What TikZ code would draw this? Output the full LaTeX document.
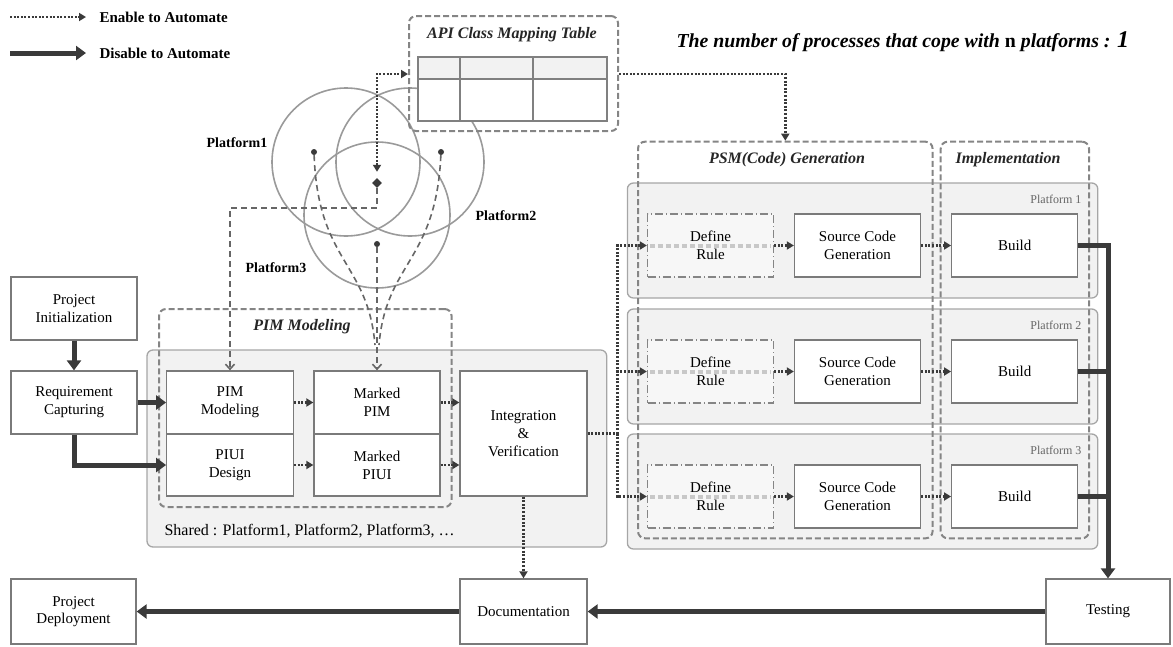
\documentclass[tikz,border=0pt]{standalone}
\usepackage{fontspec}
\setmainfont{Liberation Serif}
\usetikzlibrary{arrows.meta,shapes.geometric}
\definecolor{dk}{HTML}{3A3A3A}
\definecolor{bd}{HTML}{7A7A7A}
\definecolor{grp}{HTML}{858585}
\definecolor{fillg}{HTML}{F2F2F2}
\definecolor{circ}{HTML}{9A9A9A}
\definecolor{lg}{HTML}{C8C8C8}
\tikzset{
  box/.style={draw=bd, line width=1.3pt, fill=white, align=center, inner sep=0pt,
    font=\fontsize{15}{18}\selectfont},
  boxb/.style={box, font=\fontsize{15}{17}\selectfont},
  rulebox/.style={box, draw=grp, dash pattern=on 8pt off 3pt on 1pt off 3pt, fill=white!97!black},
  grpbox/.style={draw=grp, line width=2pt, dash pattern=on 6pt off 3pt, rounded corners=7pt, inner sep=0pt},
  platbox/.style={draw=gray!70, line width=1.3pt, fill=fillg, rounded corners=6pt},
  head/.style={font=\fontsize{16}{18}\selectfont\bfseries\itshape, text=black!85},
  legtxt/.style={font=\fontsize{15}{17}\selectfont\bfseries, anchor=west},
  dotline/.style={draw=dk, line width=2.4pt, dash pattern=on 2pt off 1.6pt},
  dotarr/.style={dotline, -{Triangle[length=7pt,width=8pt]}},
  thickline/.style={draw=dk, line width=5pt},
  thickarr/.style={thickline, -{Triangle[length=10pt,width=14pt]}},
  dsh/.style={draw=black!60, line width=1.6pt, dash pattern=on 6pt off 4pt},
  dsharr/.style={dsh, -{Straight Barb[length=5pt,width=9pt]}},
  circl/.style={draw=circ, line width=1.6pt},
  dotn/.style={circle, fill=dk, minimum size=6pt, inner sep=0pt},
  plab/.style={font=\fontsize{14}{16}\selectfont\bfseries},
  pnum/.style={font=\fontsize{12}{14}\selectfont, text=black!60, anchor=east},
}
\begin{document}
\begin{tikzpicture}[x=1pt,y=-1pt]
\useasboundingbox (0,0) rectangle (1173,646);

% ---------- background gray areas ----------
\draw[platbox] (147,350) rectangle (606.7,547);
\foreach \t in {183,309,434}{
  \draw[platbox] (627.4,\t) rectangle (1097.8,\t+115);
}

% ---------- circles ----------
\draw[circl] (346,162) circle[radius=74pt];
\draw[circl] (410,162) circle[radius=74pt];
\draw[circl] (377,215) circle[radius=73pt];
\node[plab] (p1lab) at (237,143) {Platform1};
\node[plab] (p2lab) at (506,216) {Platform2};
\node[plab] (p3lab) at (276,268) {Platform3};

% ---------- API table ----------
\node[grpbox, minimum width=209pt, minimum height=115pt] (apibox) at (513.5,73.5) {};
\node[head] (apititle) at (512,35) {API Class Mapping Table};
\fill[white] (418,57) rectangle (607,121);
\fill[fillg] (418,57) rectangle (607,79);
\draw[draw=black!50, line width=1.3pt] (418,57) rectangle (607,121);
\draw[draw=black!50, line width=1.3pt] (418,79) -- (607,79) (460,57) -- (460,121) (533,57) -- (533,121);

% ---------- group boxes ----------
\node[grpbox, minimum width=292.6pt, minimum height=198pt] (pimgrp) at (305.3,408) {};
\node[head] (pimlab) at (302,327) {PIM Modeling};
\node[grpbox, minimum width=294.6pt, minimum height=396.6pt] (psm) at (785.3,340) {};
\node[head] (psmlab) at (787,160) {PSM(Code) Generation};
\node[grpbox, minimum width=148.3pt, minimum height=396.6pt] (impl) at (1014.85,340) {};
\node[head] (impllab) at (1008,160) {Implementation};

% ---------- left nodes ----------
\node[box, minimum width=126pt, minimum height=63pt] (projinit) at (74,308.5) {Project\\Initialization};
\node[box, minimum width=126pt, minimum height=63pt] (req) at (74,402.5) {Requirement\\Capturing};
\node[box, minimum width=126.5pt, minimum height=63pt] (pimmod) at (230,402.5) {PIM\\Modeling};
\node[box, minimum width=126.5pt, minimum height=62pt] (piui) at (230,465) {PIUI\\Design};
\node[box, minimum width=126pt, minimum height=63pt] (mpim) at (377,402.5) {Marked\\PIM};
\node[box, minimum width=126pt, minimum height=62pt] (mpiui) at (377,465) {Marked\\PIUI};
\node[box, minimum width=127pt, minimum height=125pt] (integ) at (523.5,433.5) {Integration\\\&\\Verification};
\node[anchor=west, font=\fontsize{16}{18}\selectfont] (shared) at (161,531) {Shared : Platform1, Platform2, Platform3, \dots};

% ---------- bottom nodes ----------
\node[boxb, minimum width=125pt, minimum height=65pt] (deploy) at (73.5,611.5) {Project\\Deployment};
\node[boxb, minimum width=127pt, minimum height=65pt] (doc) at (523.5,611.5) {Documentation};
\node[boxb, minimum width=124pt, minimum height=65pt] (test) at (1108,611.5) {Testing};

% ---------- platform rows ----------
\foreach \t/\n in {183/1,309/2,434/3}{
  \node[pnum] (pl\n) at (1085,\t+16) {Platform \n};
  \node[rulebox, minimum width=126pt, minimum height=63pt] (dr\n) at (710.5,\t+62.5) {Define\\Rule};
  \draw[draw=lg, line width=4pt, dash pattern=on 5pt off 3pt] ([xshift=3pt]dr\n.west) -- ([xshift=-3pt]dr\n.east);
  \node[box, minimum width=126pt, minimum height=63pt] (sc\n) at (857.5,\t+62.5) {Source Code\\Generation};
  \node[box, minimum width=126pt, minimum height=63pt] (bd\n) at (1014.7,\t+62.5) {Build};
}

% ---------- legend ----------
\node[legtxt] (leg1) at (96,17) {Enable to Automate};
\node[legtxt] (leg2) at (96,53) {Disable to Automate};
\coordinate (l1) at (10,17);
\coordinate (l2) at (10,53);
\draw[dotarr] (l1) -- ([xshift=-10pt]leg1.west);
\draw[thickarr] (l2) -- ([xshift=-10pt]leg2.west);

% ---------- title ----------
\node[anchor=west, font=\fontsize{19.8}{22}\selectfont\bfseries\itshape] (title) at (673,42)
  {The number of processes that cope with \textup{n} platforms : {\fontsize{24}{24}\selectfont 1}};

% ---------- circle markers and dashed links ----------
\node[dotn] (d1) at (314,152) {};
\node[dotn] (d2) at (441,152) {};
\node[dotn] (d3) at (377,244) {};
\node[diamond, fill=dk, minimum size=10pt, inner sep=0pt] (dia) at (377,183) {};
\coordinate (apiy) at (0,74);
\draw[dotline, {Triangle[length=7pt,width=8pt]}-{Triangle[length=7pt,width=8pt]}]
  ([yshift=6pt]dia.north) |- (apibox.west |- apiy);
\draw[dotarr] (apibox.east |- apiy) -| (psm.north);
\coordinate (dj) at (377,208);
\draw[dsharr] (dia.south) -- (dj) -| (pimmod.north);
\draw[dsh] (d1) .. controls (318,262) and (368,262) .. (375,345);
\draw[dsh] (d2) .. controls (436,262) and (386,262) .. (379,345);
\draw[dsharr] (d3) -- (mpim.north);

% ---------- connectors ----------
\draw[thickarr] (projinit) -- (req);
\draw[thickarr] (req) -- (pimmod);
\draw[thickarr] (req.south) |- (piui.west);
\draw[dotarr] (pimmod) -- (mpim);
\draw[dotarr] (piui) -- (mpiui);
\draw[dotarr] (mpim.east) -- (mpim.east -| integ.west);
\draw[dotarr] (mpiui.east) -- (mpiui.east -| integ.west);
\draw[dotarr] (integ) -- (doc);
\coordinate (split) at (617.5,433.5);
\draw[dotline] (integ.east) -- (split);
\foreach \n in {1,2,3}{
  \draw[dotarr] (split) |- (dr\n.west);
  \draw[dotarr] (dr\n) -- (sc\n);
  \draw[dotarr] (sc\n) -- (bd\n);
}
\coordinate (tj) at (1108,245.5);
\draw[thickarr] (bd1.east) -- (bd1.east -| tj) -- (test.north);
\draw[thickline] (bd2.east) -- (bd2.east -| tj);
\draw[thickline] (bd3.east) -- (bd3.east -| tj);
\draw[thickarr] (test) -- (doc);
\draw[thickarr] (doc) -- (deploy);
\end{tikzpicture}
\end{document}
